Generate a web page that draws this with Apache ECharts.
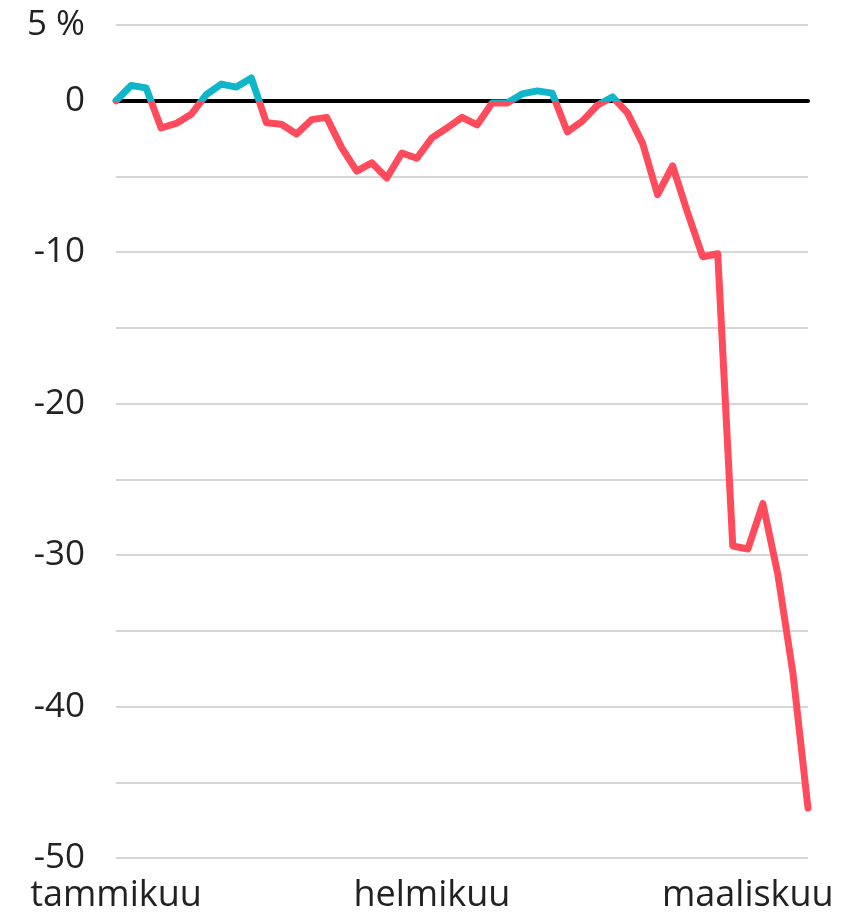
<!DOCTYPE html>
<html>
<head>
<meta charset="utf-8">
<script src="https://cdn.jsdelivr.net/npm/echarts@6/dist/echarts.min.js"></script>
<style>
  html, body { margin: 0; padding: 0; background: #fff; }
  #chart { width: 860px; height: 914px; }
</style>
</head>
<body>
<div id="chart"></div>
<script>
// muutos vuoden alusta, % (kaupankäyntipäivät)
var values = [
  0, 1.0, 0.85, -1.8, -1.5, -0.9, 0.4, 1.1, 0.9, 1.5,
  -1.45, -1.55, -2.2, -1.25, -1.1, -3.1, -4.65, -4.1, -5.1, -3.45,
  -3.8, -2.45, -1.8, -1.1, -1.6, -0.15, -0.15, 0.45, 0.65, 0.5,
  -2.05, -1.35, -0.3, 0.25, -0.8, -2.8, -6.2, -4.3, -7.4, -10.3,
  -10.1, -29.4, -29.6, -26.6, -31.3, -37.8, -46.7
];
var tickIndex = [0, 21, 42];
var tickLabels = ['tammikuu', 'helmikuu', 'maaliskuu'];
var yMin = -50, yMax = 5, yStep = 5;

var categories = values.map(function (v, i) { return String(i); });

var font = '"Open Sans", "Noto Sans", sans-serif';
var textColor = '#222';
var upColor = '#0fb5c8';
var downColor = '#ff4b5c';

var chart = echarts.init(document.getElementById('chart'));
var option = {
  animation: false,
  grid: { left: 116, right: 52, top: 25, bottom: 51, containLabel: false },
  xAxis: [
    {
      // kuukausien nimet alareunassa
      type: 'category',
      data: categories,
      boundaryGap: false,
      axisLine: { show: false, onZero: false },
      axisTick: { show: false },
      splitLine: { show: false },
      axisLabel: {
        interval: function (i) { return tickIndex.indexOf(i) >= 0; },
        formatter: function (val) {
          var k = tickIndex.indexOf(Number(val));
          return k >= 0 ? tickLabels[k] : '';
        },
        margin: 20,
        fontSize: 36,
        fontFamily: font,
        color: textColor
      }
    },
    {
      // musta nollaviiva
      type: 'category',
      data: categories,
      boundaryGap: false,
      position: 'bottom',
      axisLine: { show: true, onZero: true, lineStyle: { color: '#000', width: 4 } },
      axisTick: { show: false },
      axisLabel: { show: false },
      splitLine: { show: false }
    }
  ],
  yAxis: {
    type: 'value',
    min: yMin,
    max: yMax,
    interval: yStep,
    axisLine: { show: false },
    axisTick: { show: false },
    splitLine: { lineStyle: { color: '#d6d6d6', width: 2 } },
    axisLabel: {
      margin: 31,
      fontSize: 35,
      fontFamily: font,
      color: textColor,
      formatter: function (v) {
        if (v === yMax) return v + ' %';
        if (v % 10 === 0) return String(v);
        return '';
      }
    }
  },
  series: [
    {
      type: 'line',
      data: values,
      z: 3,
      showSymbol: false,
      symbol: 'none',
      lineStyle: { width: 7, cap: 'round', join: 'round', color: downColor }
    }
  ]
};
chart.setOption(option);

// väri vaihtuu nollatasolla: yläpuolella turkoosi, alapuolella punainen
var zeroY = chart.convertToPixel({ yAxisIndex: 0 }, 0);
var h = chart.getHeight();
var t = zeroY / h;
chart.setOption({
  series: [{
    lineStyle: {
      color: new echarts.graphic.LinearGradient(0, 0, 0, h, [
        { offset: 0, color: upColor },
        { offset: t, color: upColor },
        { offset: t, color: downColor },
        { offset: 1, color: downColor }
      ], true)
    }
  }]
});
</script>
</body>
</html>
